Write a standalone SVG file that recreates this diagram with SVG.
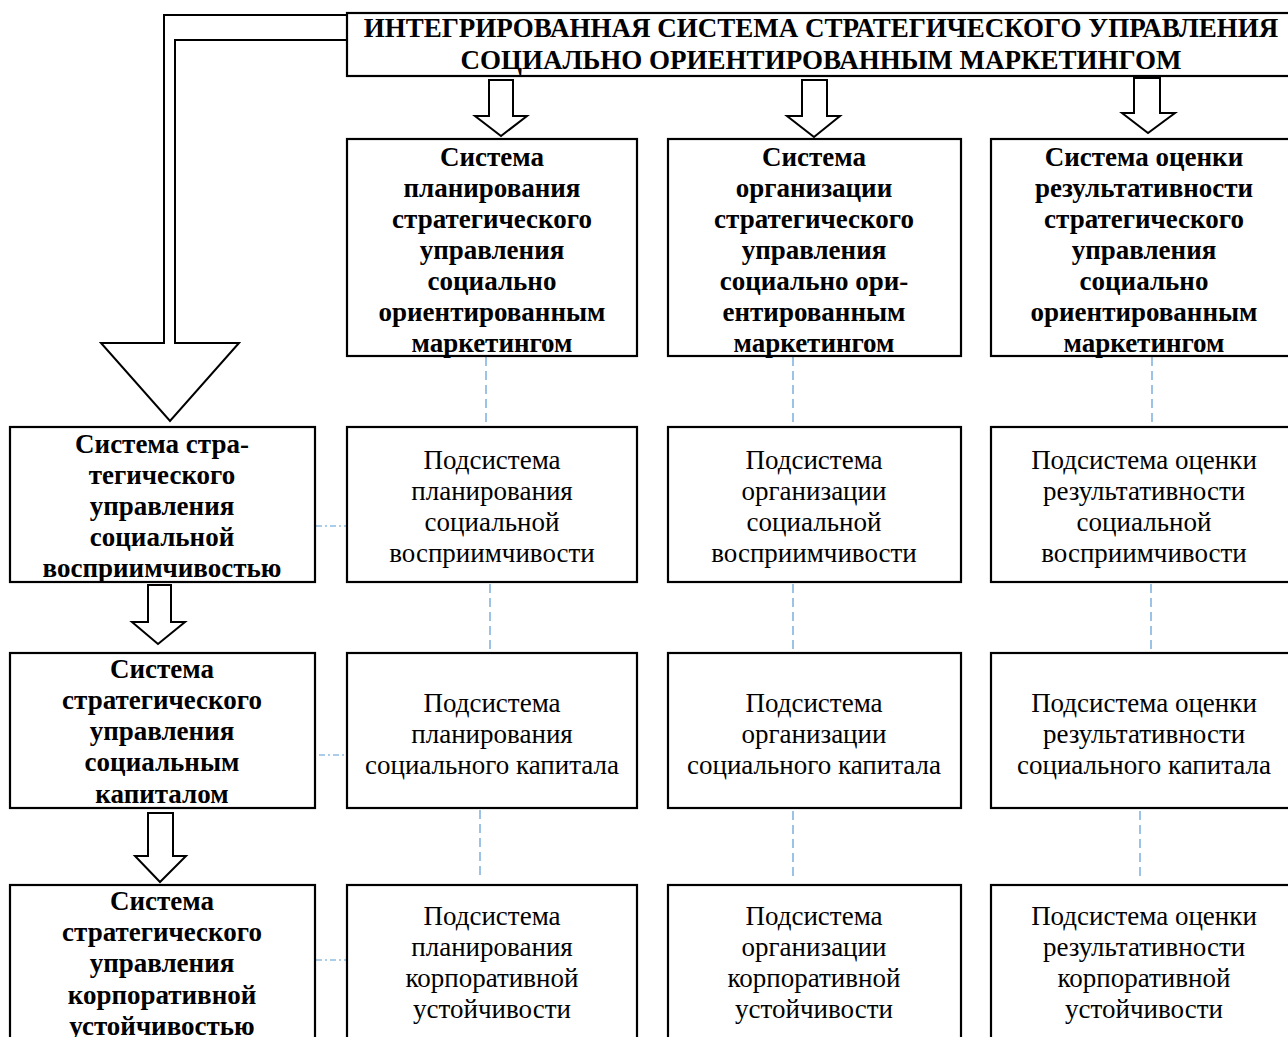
<svg xmlns="http://www.w3.org/2000/svg" width="1288" height="1037" viewBox="0 0 1288 1037">
<style>
.box{fill:#fff;stroke:#000;stroke-width:2.2}
.arr{fill:#fff;stroke:#000;stroke-width:2;stroke-linejoin:miter}
.b{font-family:"Liberation Serif","Times New Roman",serif;font-weight:bold;font-size:27px;text-anchor:middle;fill:#000}
.r{font-family:"Liberation Serif","Times New Roman",serif;font-size:27px;text-anchor:middle;fill:#000}
.dv{stroke:#5b9bd5;stroke-width:1.2;stroke-dasharray:9 5;fill:none}
.dh{stroke:#5b9bd5;stroke-width:1.2;stroke-dasharray:6 3 2 3;fill:none}
</style>
<rect width="1288" height="1037" fill="#fff"/>
<g id="connectors">
<polygon class="arr" points="347,15 164,15 164,343 101,343 170,421 239,343 175,343 175,40 347,40"/>
<polygon class="arr" points="489,80 513,80 513,116 527,116 501,136 475,116 489,116"/>
<polygon class="arr" points="802,80 827,80 827,116 840,116 814,137 787,116 802,116"/>
<polygon class="arr" points="1134,78 1160,78 1160,113 1175,113 1148,133 1122,113 1134,113"/>
<polygon class="arr" points="148,585 171,585 171,622 185,622 158,644 132,622 148,622"/>
<polygon class="arr" points="148,813 173,813 173,856 186,856 160,882 135,856 148,856"/>
<line class="dv" x1="486" y1="357" x2="486" y2="427"/>
<line class="dv" x1="793" y1="357" x2="793" y2="427"/>
<line class="dv" x1="1152" y1="357" x2="1152" y2="427"/>
<line class="dv" x1="490" y1="584" x2="490" y2="653"/>
<line class="dv" x1="793" y1="584" x2="793" y2="653"/>
<line class="dv" x1="1151" y1="584" x2="1151" y2="653"/>
<line class="dv" x1="480" y1="810" x2="480" y2="877"/>
<line class="dv" x1="793" y1="811" x2="793" y2="880"/>
<line class="dv" x1="1140" y1="811" x2="1140" y2="880"/>
<line class="dh" x1="316" y1="526" x2="347" y2="526"/>
<line class="dh" x1="319" y1="755" x2="352" y2="755"/>
<line class="dh" x1="316" y1="960" x2="348" y2="960"/>
</g>
<g id="title">
<rect class="box" x="347" y="13" width="960" height="63"/>
<text class="b" x="821"><tspan x="821" y="37">ИНТЕГРИРОВАННАЯ СИСТЕМА СТРАТЕГИЧЕСКОГО УПРАВЛЕНИЯ</tspan><tspan x="821" y="69">СОЦИАЛЬНО ОРИЕНТИРОВАННЫМ МАРКЕТИНГОМ</tspan></text>
</g>
<g id="h1">
<rect class="box" x="347" y="139" width="290" height="217"/>
<text class="b"><tspan x="492" y="166">Система</tspan><tspan x="492" y="197">планирования</tspan><tspan x="492" y="228">стратегического</tspan><tspan x="492" y="259">управления</tspan><tspan x="492" y="290">социально</tspan><tspan x="492" y="321">ориентированным</tspan><tspan x="492" y="352">маркетингом</tspan></text>
</g>
<g id="h2">
<rect class="box" x="668" y="139" width="293" height="217"/>
<text class="b"><tspan x="814" y="166">Система</tspan><tspan x="814" y="197">организации</tspan><tspan x="814" y="228">стратегического</tspan><tspan x="814" y="259">управления</tspan><tspan x="814" y="290">социально ори-</tspan><tspan x="814" y="321">ентированным</tspan><tspan x="814" y="352">маркетингом</tspan></text>
</g>
<g id="h3">
<rect class="box" x="991" y="139" width="310" height="217"/>
<text class="b"><tspan x="1144" y="166">Система оценки</tspan><tspan x="1144" y="197">результативности</tspan><tspan x="1144" y="228">стратегического</tspan><tspan x="1144" y="259">управления</tspan><tspan x="1144" y="290">социально</tspan><tspan x="1144" y="321">ориентированным</tspan><tspan x="1144" y="352">маркетингом</tspan></text>
</g>
<g id="l1">
<rect class="box" x="10" y="427" width="305" height="155"/>
<text class="b"><tspan x="162" y="453">Система стра-</tspan><tspan x="162" y="484">тегического</tspan><tspan x="162" y="515">управления</tspan><tspan x="162" y="546">социальной</tspan><tspan x="162" y="577">восприимчивостью</tspan></text>
</g>
<g id="l2">
<rect class="box" x="10" y="653" width="305" height="155"/>
<text class="b"><tspan x="162" y="678">Система</tspan><tspan x="162" y="709">стратегического</tspan><tspan x="162" y="740">управления</tspan><tspan x="162" y="771">социальным</tspan><tspan x="162" y="803">капиталом</tspan></text>
</g>
<g id="l3">
<rect class="box" x="10" y="885" width="305" height="170"/>
<text class="b"><tspan x="162" y="910">Система</tspan><tspan x="162" y="941">стратегического</tspan><tspan x="162" y="972">управления</tspan><tspan x="162" y="1004">корпоративной</tspan><tspan x="162" y="1035">устойчивостью</tspan></text>
</g>
<g id="p11">
<rect class="box" x="347" y="427" width="290" height="155"/>
<text class="r"><tspan x="492" y="469">Подсистема</tspan><tspan x="492" y="500">планирования</tspan><tspan x="492" y="531">социальной</tspan><tspan x="492" y="562">восприимчивости</tspan></text>
</g>
<g id="p12">
<rect class="box" x="668" y="427" width="293" height="155"/>
<text class="r"><tspan x="814" y="469">Подсистема</tspan><tspan x="814" y="500">организации</tspan><tspan x="814" y="531">социальной</tspan><tspan x="814" y="562">восприимчивости</tspan></text>
</g>
<g id="p13">
<rect class="box" x="991" y="427" width="310" height="155"/>
<text class="r"><tspan x="1144" y="469">Подсистема оценки</tspan><tspan x="1144" y="500">результативности</tspan><tspan x="1144" y="531">социальной</tspan><tspan x="1144" y="562">восприимчивости</tspan></text>
</g>
<g id="p21">
<rect class="box" x="347" y="653" width="290" height="155"/>
<text class="r"><tspan x="492" y="712">Подсистема</tspan><tspan x="492" y="743">планирования</tspan><tspan x="492" y="774">социального капитала</tspan></text>
</g>
<g id="p22">
<rect class="box" x="668" y="653" width="293" height="155"/>
<text class="r"><tspan x="814" y="712">Подсистема</tspan><tspan x="814" y="743">организации</tspan><tspan x="814" y="774">социального капитала</tspan></text>
</g>
<g id="p23">
<rect class="box" x="991" y="653" width="310" height="155"/>
<text class="r"><tspan x="1144" y="712">Подсистема оценки</tspan><tspan x="1144" y="743">результативности</tspan><tspan x="1144" y="774">социального капитала</tspan></text>
</g>
<g id="p31">
<rect class="box" x="347" y="885" width="290" height="170"/>
<text class="r"><tspan x="492" y="925">Подсистема</tspan><tspan x="492" y="956">планирования</tspan><tspan x="492" y="987">корпоративной</tspan><tspan x="492" y="1018">устойчивости</tspan></text>
</g>
<g id="p32">
<rect class="box" x="668" y="885" width="293" height="170"/>
<text class="r"><tspan x="814" y="925">Подсистема</tspan><tspan x="814" y="956">организации</tspan><tspan x="814" y="987">корпоративной</tspan><tspan x="814" y="1018">устойчивости</tspan></text>
</g>
<g id="p33">
<rect class="box" x="991" y="885" width="310" height="170"/>
<text class="r"><tspan x="1144" y="925">Подсистема оценки</tspan><tspan x="1144" y="956">результативности</tspan><tspan x="1144" y="987">корпоративной</tspan><tspan x="1144" y="1018">устойчивости</tspan></text>
</g>
</svg>
